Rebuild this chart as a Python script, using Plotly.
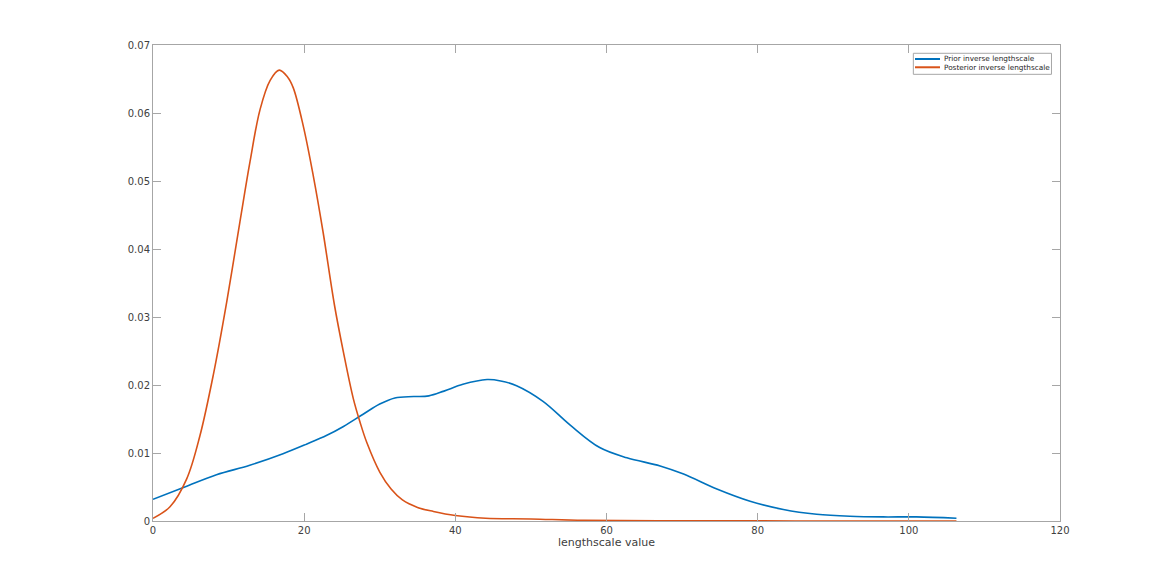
import plotly.graph_objects as go

# values
prior_x = [0, 4.2, 8.4, 12.8, 17.2, 20.3, 23.0, 25.2, 27.8, 30.0, 32.0, 34.5, 36.5,
           38.5, 41.0, 44.2, 46.0, 48.1, 51.6, 55.2, 59.1, 62.7, 67.1, 70.2, 74.6,
           79.0, 83.4, 87.8, 92.2, 96.6, 101.0, 106.3]
prior_y = [0.0032, 0.0050, 0.0068, 0.0082, 0.0099, 0.0113, 0.0126, 0.0139, 0.0157,
           0.0172, 0.0181, 0.0183, 0.0184, 0.0191, 0.0201, 0.0208, 0.0206, 0.0199,
           0.0176, 0.0141, 0.0108, 0.0093, 0.0081, 0.0069, 0.0047, 0.0029, 0.0017,
           0.0010, 0.0007, 0.0006, 0.0006, 0.0004]

post_x = [0, 2.25, 4.46, 6.2, 7.98, 9.75, 11.5, 12.83, 14.16, 15.5, 16.7, 17.8,
          18.56, 19.9, 21.2, 22.5, 24.0, 25.2, 26.5, 27.4, 28.3, 30.0, 31.5, 33.0,
          35.0, 37.1, 40.0, 44.0, 50.0, 57.0, 70.0, 85.0, 106.3]
post_y = [0.0004, 0.0021, 0.0062, 0.0125, 0.0215, 0.0322, 0.0440, 0.0528, 0.0605,
          0.0648, 0.0663, 0.0653, 0.0637, 0.0580, 0.0508, 0.0425, 0.0318, 0.0248,
          0.0180, 0.0145, 0.0115, 0.0072, 0.0047, 0.0031, 0.0020, 0.0014, 0.0008,
          0.0004, 0.0003, 0.0001, 0.00003, 0.00001, 0.0]

series_names = ['Prior inverse lengthscale', 'Posterior inverse lengthscale']
series_colors = ['#0072BD', '#D95319']

x_ticks = [0, 20, 40, 60, 80, 100, 120]
y_ticks = [0, 0.01, 0.02, 0.03, 0.04, 0.05, 0.06, 0.07]
y_tick_labels = ['0', '0.01', '0.02', '0.03', '0.04', '0.05', '0.06', '0.07']

fig = go.Figure()

for xs, ys, name, color in zip([prior_x, post_x], [prior_y, post_y],
                               series_names, series_colors):
    fig.add_trace(go.Scatter(
        x=xs,
        y=ys,
        mode='lines',
        name=name,
        line=dict(color=color, width=1.6, shape='spline', smoothing=1.0)
    ))

# compact MATLAB-style legend box drawn in paper coordinates
box = dict(x0=0.8383, x1=0.9906, y0=0.9384, y1=0.9826)
fig.add_shape(type='rect', xref='paper', yref='paper', **box,
              line=dict(color='#a6a6a6', width=1), fillcolor='white', layer='above')
for i, (name, color) in enumerate(zip(series_names, series_colors)):
    yy = 0.9706 - i * 0.0174
    fig.add_shape(type='line', xref='paper', yref='paper',
                  x0=0.8401, x1=0.8677, y0=yy, y1=yy,
                  line=dict(color=color, width=2), layer='above')
    fig.add_annotation(xref='paper', yref='paper', x=0.8699, y=yy,
                       xanchor='left', yanchor='middle', showarrow=False,
                       text=name, font=dict(size=7.3, color='#262626'))

axis_style = dict(
    showline=True,
    linecolor='#a6a6a6',
    linewidth=1,
    mirror='ticks',
    ticks='inside',
    ticklen=8,
    tickcolor='#a6a6a6',
    tickwidth=1,
    showgrid=False,
    zeroline=False,
    tickfont=dict(size=10, color='#404040'),
)

fig.update_layout(
    width=1170,
    height=585,
    plot_bgcolor='white',
    paper_bgcolor='white',
    font=dict(family='DejaVu Sans', size=10, color='#404040'),
    margin=dict(l=145, r=118, t=37, b=72),
    showlegend=False,
)

fig.update_xaxes(
    range=[0, 120],
    tickvals=x_ticks,
    title=dict(text='lengthscale value', font=dict(size=11, color='#404040'), standoff=2),
    **axis_style
)
fig.update_yaxes(
    range=[0, 0.07],
    tickvals=y_ticks,
    ticktext=y_tick_labels,
    **axis_style
)

fig.write_html("out.html")
